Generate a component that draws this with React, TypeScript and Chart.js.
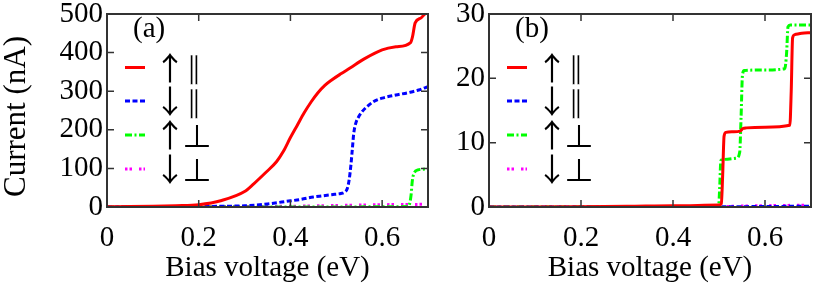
import React, { useEffect, useRef } from "react";
import { Chart, registerables } from "chart.js";

Chart.register(...registerables);

// ---------- tick labels ----------
const xTicks = [0, 0.2, 0.4, 0.6];
const aYTicks = [0, 100, 200, 300, 400, 500];
const bYTicks = [0, 10, 20, 30];

// ---------- legend text ----------
const spinLabels = ["↑", "↓", "↑", "↓"];
const orientLabels = ["∥", "∥", "⊥", "⊥"];
const panelTags = ["(a)", "(b)"];
const xTitle = "Bias voltage (eV)";
const yTitle = "Current (nA)";

// ---------- panel (a) series ----------
const aUpParX = [0, 0.05, 0.1, 0.15, 0.2, 0.25, 0.3, 0.32, 0.345, 0.37, 0.385, 0.4, 0.415, 0.43, 0.445, 0.46, 0.475, 0.49, 0.51, 0.53, 0.56, 0.6, 0.63, 0.662, 0.666, 0.672, 0.685, 0.693, 0.7];
const aUpParY = [0.5, 1, 2, 3.5, 6, 17, 40, 60, 88, 118, 145, 180, 212, 244, 272, 296, 315, 329, 345, 360, 383, 407, 415, 426, 440, 477, 490, 500, 505];

const aDnParX = [0, 0.1, 0.2, 0.25, 0.3, 0.35, 0.4, 0.42, 0.45, 0.47, 0.49, 0.51, 0.518, 0.524, 0.528, 0.532, 0.535, 0.538, 0.542, 0.548, 0.555, 0.565, 0.58, 0.6, 0.63, 0.66, 0.68, 0.7];
const aDnParY = [0, 0.5, 1, 2, 3, 8, 16, 19, 26, 29, 32, 35, 38, 48, 70, 110, 150, 190, 215, 232, 245, 258, 272, 282, 290, 297, 303, 312];

const aUpPerpX = [0, 0.3, 0.5, 0.6, 0.655, 0.659, 0.663, 0.666, 0.67, 0.678, 0.69, 0.7];
const aUpPerpY = [0, 0, 0, 0.5, 1, 5, 30, 70, 88, 96, 98, 99];

const aDnPerpX = [0, 0.2, 0.3, 0.4, 0.5, 0.6, 0.7];
const aDnPerpY = [0, 0.5, 1, 2, 4, 6, 7];

// ---------- panel (b) series ----------
const bUpParX = [0, 0.2, 0.3, 0.4, 0.5, 0.505, 0.508, 0.511, 0.515, 0.53, 0.546, 0.552, 0.56, 0.6, 0.654, 0.657, 0.66, 0.665, 0.68, 0.7];
const bUpParY = [0, 0.05, 0.1, 0.2, 0.3, 0.5, 5, 11, 11.6, 11.7, 11.8, 12.2, 12.3, 12.4, 12.7, 18, 26.3, 26.8, 27, 27.1];

const bDnParX = [0, 0.5, 0.55, 0.6, 0.65, 0.7];
const bDnParY = [0, 0.02, 0.05, 0.08, 0.1, 0.12];

const bUpPerpX = [0, 0.3, 0.499, 0.5015, 0.504, 0.51, 0.538, 0.545, 0.548, 0.551, 0.555, 0.6, 0.643, 0.647, 0.65, 0.655, 0.7];
const bUpPerpY = [0, 0, 0, 3, 7.2, 7.4, 7.6, 8.5, 14, 20.5, 21.2, 21.3, 21.5, 24, 28, 28.3, 28.3];

const bDnPerpX = [0, 0.5, 0.55, 0.6, 0.65, 0.7];
const bDnPerpY = [0, 0.05, 0.15, 0.2, 0.25, 0.3];

// ---------- styles ----------
const seriesColors = ["#ff0000", "#0000ff", "#00ff00", "#ff00ff"];
const seriesDashes: number[][] = [[], [5, 2.5], [7, 2.5, 2, 2.5], [2.5, 2, 2.5, 7]];
const FONT = "'Liberation Serif', 'Times New Roman', 'DejaVu Serif', serif";
const SYMFONT = "'Noto Sans CJK SC', 'DejaVu Sans', sans-serif";
const PARFONT = "'DejaVu Sans', 'DejaVu Serif', sans-serif";
const frameColor = "#333333";

function pts(xs: number[], ys: number[]) {
  return xs.map((x, i) => ({ x, y: ys[i] }));
}

const frameTicksPlugin = {
  id: "frameTicks",
  afterDatasetsDraw(chart: any) {
    const { ctx, chartArea, scales } = chart;
    const { left, right, top, bottom } = chartArea;
    ctx.save();
    ctx.strokeStyle = frameColor;
    ctx.lineWidth = 1.5;
    ctx.beginPath();
    scales.x.ticks.forEach((t: any) => {
      const px = scales.x.getPixelForValue(t.value);
      ctx.moveTo(px, bottom);
      ctx.lineTo(px, bottom - 7);
      ctx.moveTo(px, top);
      ctx.lineTo(px, top + 7);
    });
    scales.y.ticks.forEach((t: any) => {
      const py = scales.y.getPixelForValue(t.value);
      ctx.moveTo(left, py);
      ctx.lineTo(left + 7, py);
      ctx.moveTo(right, py);
      ctx.lineTo(right - 7, py);
    });
    ctx.stroke();
    ctx.lineWidth = 2;
    ctx.strokeRect(left, top, right - left, bottom - top);
    ctx.restore();
  },
};

const panelLegendPlugin = {
  id: "panelLegend",
  afterDatasetsDraw(chart: any, _args: any, opts: any) {
    const { ctx, chartArea } = chart;
    const { left, top, bottom } = chartArea;
    ctx.save();
    ctx.fillStyle = "#000";
    ctx.textBaseline = "alphabetic";
    ctx.textAlign = "left";
    ctx.font = `29px ${FONT}`;
    ctx.fillText(opts.tag, left + 26, top + 23);
    const rowY = [top + 53.5, top + 87, top + 121, top + 155];
    chart.data.datasets.forEach((ds: any, i: number) => {
      const y = rowY[i];
      ctx.strokeStyle = ds.borderColor;
      ctx.lineWidth = 3;
      ctx.setLineDash(ds.borderDash || []);
      ctx.beginPath();
      ctx.moveTo(left + 18, y);
      ctx.lineTo(left + 38, y);
      ctx.stroke();
      ctx.setLineDash([]);
      ctx.fillStyle = "#000";
      ctx.textAlign = "center";
      ctx.textBaseline = "middle";
      ctx.font = `32px ${SYMFONT}`;
      ctx.fillText(spinLabels[i], left + 63, y);
      if (orientLabels[i] === "∥") {
        ctx.font = `30px ${PARFONT}`;
        ctx.fillText(orientLabels[i], left + 87, y + 3);
        ctx.strokeStyle = "#ffffff";
        ctx.lineWidth = 0.5;
        ctx.strokeText(orientLabels[i], left + 87, y + 3);
      } else {
        ctx.font = `30px ${SYMFONT}`;
        ctx.fillText(orientLabels[i], left + 90, y + 1);
      }
    });
    if (opts.showYTitle) {
      ctx.save();
      ctx.translate(17, (top + bottom) / 2 + 6);
      ctx.rotate(-Math.PI / 2);
      ctx.textAlign = "center";
      ctx.textBaseline = "middle";
      ctx.fillStyle = "#000";
      ctx.font = `31px ${FONT}`;
      ctx.fillText(yTitle, 0, 0);
      ctx.restore();
    }
    ctx.restore();
  },
};

function makeConfig(series: { x: number[]; y: number[] }[], yTicks: number[], yMax: number, yWidth: number, rightPad: number, tag: string, showYTitle: boolean): any {
  return {
    type: "line",
    data: {
      datasets: series.map((s, i) => ({
        data: pts(s.x, s.y),
        borderColor: seriesColors[i],
        borderDash: seriesDashes[i],
        borderWidth: 3,
        pointRadius: 0,
        fill: false,
        cubicInterpolationMode: "monotone",
        borderCapStyle: "butt",
      })),
    },
    options: {
      responsive: false,
      animation: false,
      devicePixelRatio: 1,
      layout: { padding: { left: 0, right: rightPad, top: 14, bottom: 0 } },
      plugins: {
        legend: { display: false },
        tooltip: { enabled: false },
        panelLegend: { tag, showYTitle },
      },
      scales: {
        x: {
          type: "linear",
          min: 0,
          max: 0.7,
          grid: { display: false, drawTicks: false },
          border: { display: false },
          afterBuildTicks: (scale: any) => {
            scale.ticks = xTicks.map((v) => ({ value: v }));
          },
          afterFit: (scale: any) => {
            scale.height = 91;
            scale.paddingLeft = 0;
            scale.paddingRight = 0;
          },
          ticks: {
            padding: 14,
            color: "#000",
            font: { family: FONT, size: 29 },
            maxRotation: 0,
            autoSkip: false,
            callback: (v: any) => String(v),
          },
          title: {
            display: true,
            text: xTitle,
            color: "#000",
            font: { family: FONT, size: 29 },
            padding: { top: 0, bottom: 12 },
          },
        },
        y: {
          type: "linear",
          min: 0,
          max: yMax,
          grid: { display: false, drawTicks: false },
          border: { display: false },
          afterBuildTicks: (scale: any) => {
            scale.ticks = yTicks.map((v) => ({ value: v }));
          },
          afterFit: (scale: any) => {
            scale.width = yWidth;
            scale.paddingTop = 0;
            scale.paddingBottom = 0;
          },
          ticks: {
            padding: 4,
            color: "#000",
            font: { family: FONT, size: 29 },
            autoSkip: false,
            callback: (v: any) => String(v),
          },
        },
      },
    },
    plugins: [frameTicksPlugin, panelLegendPlugin],
  };
}

export default function App() {
  const refA = useRef<HTMLCanvasElement>(null);
  const refB = useRef<HTMLCanvasElement>(null);

  useEffect(() => {
    const seriesA = [
      { x: aUpParX, y: aUpParY },
      { x: aDnParX, y: aDnParY },
      { x: aUpPerpX, y: aUpPerpY },
      { x: aDnPerpX, y: aDnPerpY },
    ];
    const seriesB = [
      { x: bUpParX, y: bUpParY },
      { x: bDnParX, y: bDnParY },
      { x: bUpPerpX, y: bUpPerpY },
      { x: bDnPerpX, y: bDnPerpY },
    ];
    const chartA = new Chart(refA.current!, makeConfig(seriesA, aYTicks, 500, 107, 12, panelTags[0], true));
    const chartB = new Chart(refB.current!, makeConfig(seriesB, bYTicks, 30, 49, 19, panelTags[1], false));
    return () => {
      chartA.destroy();
      chartB.destroy();
    };
  }, []);

  return (
    <div style={{ position: "absolute", left: 0, top: 0, width: 830, height: 298, background: "#fff" }}>
      <canvas ref={refA} width={440} height={298} style={{ position: "absolute", left: 0, top: 0 }} />
      <canvas ref={refB} width={390} height={298} style={{ position: "absolute", left: 440, top: 0 }} />
    </div>
  );
}
